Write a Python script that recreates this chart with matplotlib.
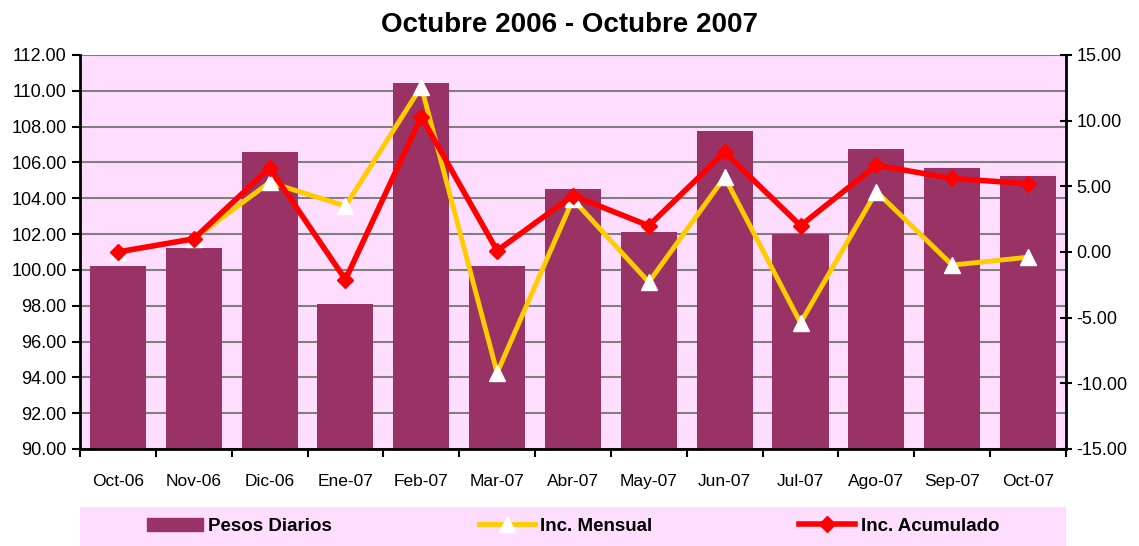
import matplotlib

matplotlib.use("Agg")
import matplotlib.pyplot as plt
from matplotlib.lines import Line2D
from matplotlib.patches import Patch
import numpy as np

plt.rcParams["font.family"] = ["Liberation Sans", "DejaVu Sans"]

meses = ["Oct-06", "Nov-06", "Dic-06", "Ene-07", "Feb-07", "Mar-07", "Abr-07",
         "May-07", "Jun-07", "Jul-07", "Ago-07", "Sep-07", "Oct-07"]
pesos_diarios = [100.2, 101.2, 106.6, 98.1, 110.45, 100.2, 104.5,
                 102.1, 107.75, 102.0, 106.75, 105.7, 105.25]
inc_mensual = [0.0, 1.0, 5.3, 3.5, 12.6, -9.2, 4.0,
               -2.3, 5.7, -5.4, 4.6, -1.0, -0.4]
inc_acumulado = [0.0, 1.0, 6.4, -2.1, 10.3, 0.1, 4.3,
                 2.0, 7.6, 2.0, 6.6, 5.6, 5.2]

BAR = "#993366"
YELLOW = "#FFCC00"
RED = "#FF0000"
PINK = "#FFDDFF"

fig = plt.figure(figsize=(11.39, 5.46), dpi=100)
ax = fig.add_axes([0.0702, 0.1777, 0.8657, 0.7216])
ax.set_facecolor(PINK)

x = np.arange(len(meses))
ax.bar(x, pesos_diarios, width=0.74, color=BAR, zorder=2)
ax.set_xlim(-0.5, len(meses) - 0.5)
ax.set_ylim(90, 112)
ax.set_yticks(np.arange(90, 112.1, 2))
ax.set_yticklabels([f"{v:.2f}" for v in np.arange(90, 112.1, 2)])
ax.yaxis.grid(True, color="#808080", linewidth=1.5, zorder=1)
ax.set_axisbelow(True)
ax.set_xticks(x)
ax.set_xticklabels(meses)
ax.set_xticks(np.arange(-0.5, len(meses), 1), minor=True)
ax.tick_params(axis="x", which="major", length=0, labelsize=12.5, pad=18)
ax.tick_params(axis="x", which="minor", length=6, width=1.5, direction="out")
ax.tick_params(axis="y", length=6, width=1.5, labelsize=13, direction="out")
for s in ["top", "right"]:
    ax.spines[s].set_visible(False)
for s in ["left", "bottom"]:
    ax.spines[s].set_linewidth(2)

ax2 = ax.twinx()
ax2.plot(x, inc_mensual, color=YELLOW, linewidth=3.5, marker="^", markersize=12,
         markerfacecolor="white", markeredgecolor="white", zorder=3)
ax2.plot(x, inc_acumulado, color=RED, linewidth=4, marker="D", markersize=8,
         markerfacecolor=RED, markeredgecolor=RED, zorder=4)
ax2.set_ylim(-15, 15)
ax2.set_yticks(np.arange(-15, 15.1, 5))
ax2.set_yticklabels([f"{v:.2f}" for v in np.arange(-15, 15.1, 5)])
ax2.tick_params(axis="y", length=8, width=1.5, labelsize=13, direction="inout")
for s in ["top", "left", "bottom"]:
    ax2.spines[s].set_visible(False)
ax2.spines["right"].set_linewidth(2)

fig.text(0.5, 0.955, "Octubre 2006 - Octubre 2007", ha="center", va="center",
         fontsize=20, fontweight="bold")

# legend band
lax = fig.add_axes([0.0702, 0.0, 0.8657, 0.072])
lax.set_facecolor(PINK)
lax.set_xticks([])
lax.set_yticks([])
for s in lax.spines.values():
    s.set_visible(False)

handles = [
    Patch(facecolor=BAR, edgecolor=BAR),
    Line2D([], [], color=YELLOW, linewidth=3.5, marker="^", markersize=12,
           markerfacecolor="white", markeredgecolor="white"),
    Line2D([], [], color=RED, linewidth=4, marker="D", markersize=8,
           markerfacecolor=RED, markeredgecolor=RED),
]
labels = ["Pesos Diarios", "Inc. Mensual", "Inc. Acumulado"]
lax.legend(handles, labels, ncol=3, loc="center", frameon=False,
           prop={"weight": "bold", "size": 13.5}, handlelength=3.0,
           handletextpad=0.3, columnspacing=7.8)

fig.savefig("out.png", dpi=100)
